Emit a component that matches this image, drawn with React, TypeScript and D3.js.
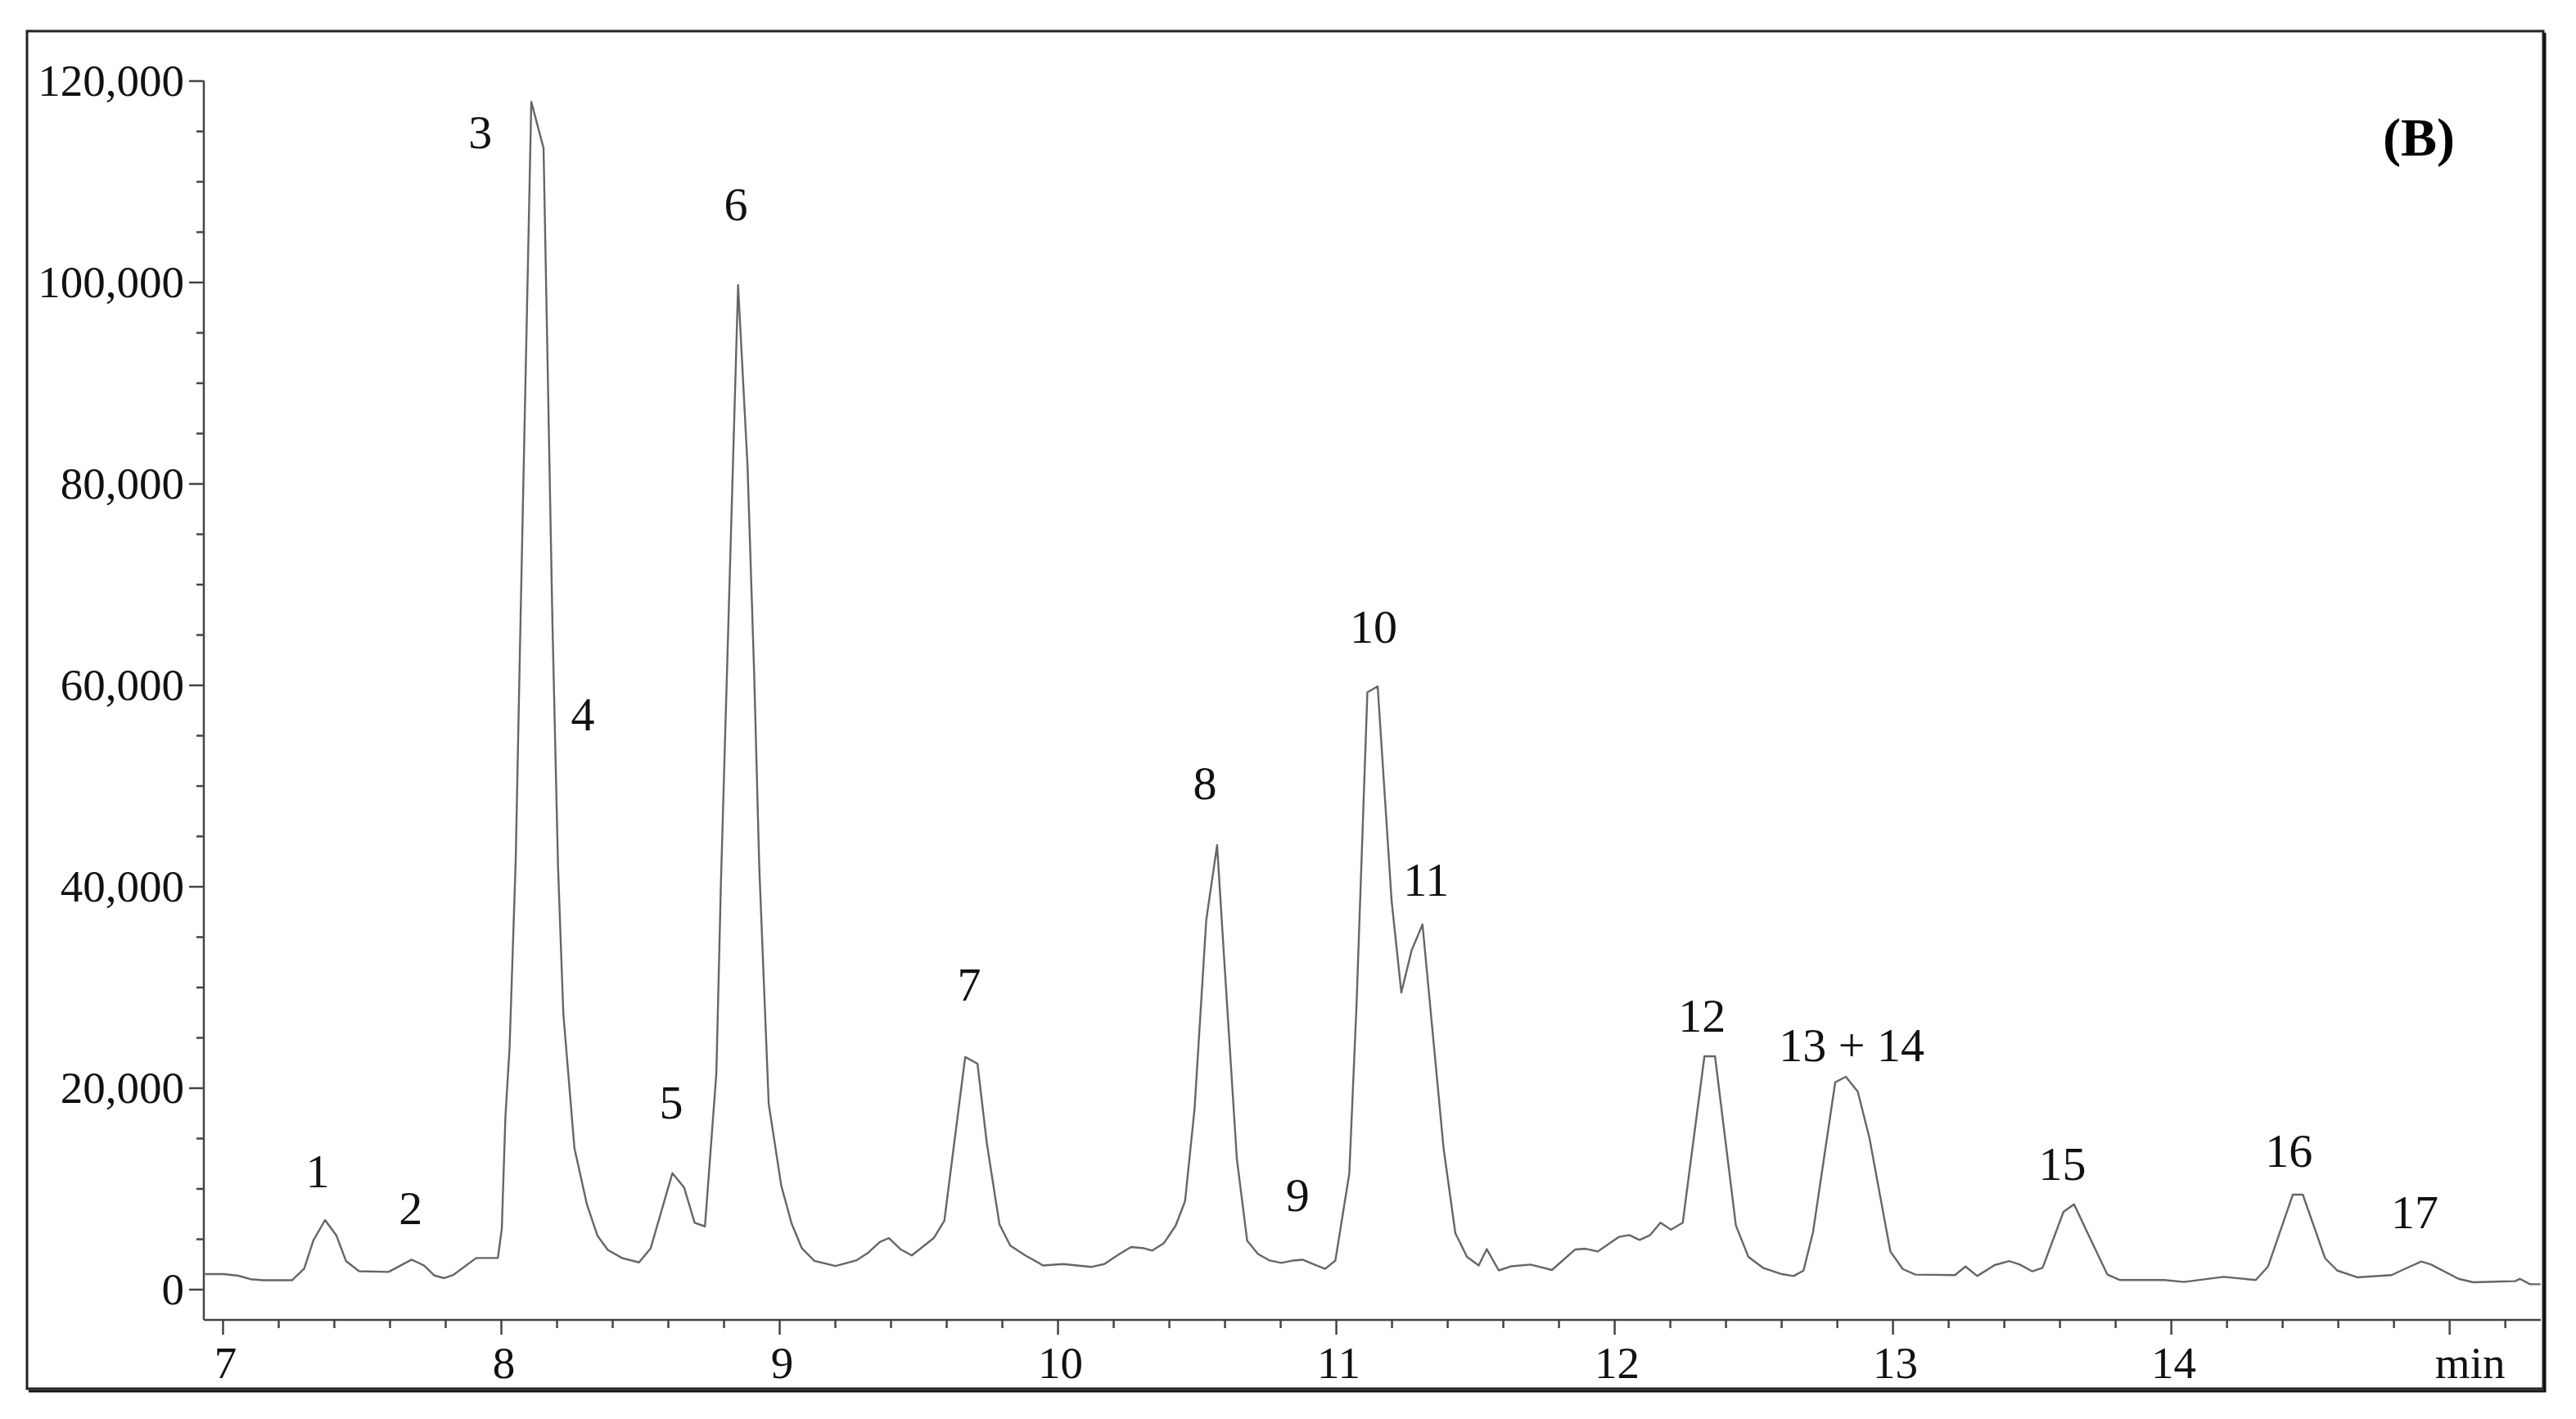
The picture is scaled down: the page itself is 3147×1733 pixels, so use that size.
import React, { useEffect, useRef } from 'react';
import * as d3 from 'd3';

// retention time (min) and detector response
const times = [
  6.933, 7.004, 7.056, 7.1, 7.146, 7.25, 7.293, 7.326, 7.368, 7.409, 7.443, 7.49, 7.596, 7.679, 7.724,
  7.761, 7.796, 7.829, 7.911, 7.989, 8.003, 8.016, 8.031, 8.053, 8.072, 8.109, 8.153, 8.185, 8.205, 8.224,
  8.264, 8.309, 8.347, 8.384, 8.435, 8.496, 8.538, 8.616, 8.658, 8.696, 8.733, 8.774, 8.79,
  8.852, 8.886, 8.91, 8.928, 8.962, 9.007, 9.044, 9.081, 9.126, 9.202, 9.276, 9.318, 9.361, 9.394,
  9.437, 9.476, 9.555, 9.593, 9.668, 9.712, 9.746, 9.791, 9.83, 9.884, 9.948, 10.019, 10.12, 10.168, 10.222,
  10.264, 10.306, 10.34, 10.382, 10.424, 10.458, 10.492, 10.534, 10.573, 10.601, 10.644, 10.681, 10.72, 10.762,
  10.804, 10.846, 10.88, 10.917, 10.961, 10.998, 11.048, 11.074, 11.113, 11.15, 11.2, 11.235, 11.272, 11.311,
  11.387, 11.429, 11.471, 11.513, 11.542, 11.585, 11.631, 11.699, 11.776, 11.859, 11.896, 11.941, 12.016,
  12.054, 12.091, 12.129, 12.166, 12.204, 12.246, 12.324, 12.362, 12.437, 12.482, 12.534, 12.602, 12.644,
  12.68, 12.714, 12.794, 12.832, 12.875, 12.917, 12.992, 13.037, 13.082, 13.224, 13.262, 13.304, 13.367,
  13.419, 13.457, 13.502, 13.539, 13.614, 13.652, 13.697, 13.772, 13.817, 13.977, 14.047, 14.189, 14.305,
  14.349, 14.438, 14.474, 14.554, 14.598, 14.669, 14.793, 14.838, 14.9, 14.935, 15.033, 15.086, 15.237,
  15.254, 15.29, 15.328,
];

const intensity = [
  1500, 1500, 1340, 1000, 900, 900, 2040, 4840, 6870, 5320, 2810, 1790, 1720, 2940, 2350,
  1360, 1100, 1420, 3100, 3100, 6000, 17100, 24000, 42600, 68700, 117900, 113300, 66100, 42000, 27400,
  14000, 8400, 5300, 3900, 3100, 2660, 4070, 11530, 10100, 6600, 6240, 21500, 40000,
  99700, 81700, 60900, 42000, 18400, 10300, 6540, 4070, 2820, 2300, 2850, 3590, 4680, 5080,
  3940, 3350, 5080, 6790, 23060, 22400, 14430, 6450, 4330, 3350, 2360, 2500, 2210, 2500, 3500,
  4190, 4090, 3840, 4580, 6300, 8760, 17890, 36630, 44100, 31680, 12950, 4820, 3500, 2850,
  2610, 2850, 2930, 2510, 2020, 2850, 11480, 28230, 59270, 59860, 38580, 29470, 33650, 36220,
  13940, 5570, 3210, 2360, 3980, 1870, 2280, 2450, 1910, 3940, 4020, 3750, 5190,
  5380, 4890, 5380, 6600, 5920, 6600, 23130, 23130, 6330, 3210, 2130, 1500, 1310,
  1850, 5650, 20550, 21100, 19610, 15000, 3750, 1990, 1450, 1400, 2260, 1310, 2400,
  2800, 2450, 1770, 2130, 7680, 8440, 5790, 1450, 910, 910, 720, 1230, 910,
  2260, 9390, 9390, 3070, 1850, 1180, 1400, 1990, 2750, 2450, 1040, 690, 800,
  1040, 500, 500,
];

// peak numbers and where they sit (time, response)
const peakLabels = ['1', '2', '3', '4', '5', '6', '7', '8', '9', '10', '11', '12', '13 + 14', '15', '16', '17'];
const peakLabelTimes = [7.341, 7.676, 7.926, 8.294, 8.612, 8.844, 9.682, 10.529, 10.862, 11.135, 11.324, 12.315, 12.853, 13.61, 14.424, 14.876];
const peakLabelValues = [10120, 6460, 113300, 55490, 16950, 106140, 28660, 48660, 7760, 64190, 39060, 25570, 22640, 10850, 12150, 6060];

const yMajorTicks = [0, 20000, 40000, 60000, 80000, 100000, 120000];
const xMajorTicks = [7, 8, 9, 10, 11, 12, 13, 14, 15];

const W = 3147;
const H = 1733;
const FONT = '"Liberation Serif", "Times New Roman", serif';

const Chromatogram = () => {
  const svgRef = useRef<SVGSVGElement>(null);

  useEffect(() => {
    const svg = d3.select(svgRef.current);
    svg.selectAll('*').remove();

    const x = d3.scaleLinear().domain([6.9324, 15.329]).range([249, 3104]);
    const y = d3.scaleLinear().domain([0, 120000]).range([1574.5, 98.5]);
    const axisY = 1612;

    // outer frame with a little shadow on the right and bottom
    svg.append('rect')
      .attr('x', 33).attr('y', 38)
      .attr('width', 3074).attr('height', 1658)
      .attr('fill', 'none')
      .attr('stroke', '#222')
      .attr('stroke-width', 3);
    svg.append('path')
      .attr('d', 'M3109,40 L3109,1699 L35,1699')
      .attr('fill', 'none')
      .attr('stroke', '#111')
      .attr('stroke-width', 3);

    // y axis
    const yMinor = d3.range(0, 120001, 5000).filter(v => v % 20000 !== 0);
    const gy = svg.append('g').attr('transform', 'translate(249,0)');
    gy.call(d3.axisLeft(y).tickValues(yMinor).tickSize(9).tickFormat(() => ''));
    gy.select('.domain').remove();
    const gy2 = svg.append('g').attr('transform', 'translate(249,0)');
    gy2.call(d3.axisLeft(y).tickValues(yMajorTicks).tickSize(18).tickPadding(6).tickFormat(d3.format(',')));
    gy2.select('.domain').remove();

    // x axis
    const xMinor = d3.range(7, 15.3, 0.2).map(v => +v.toFixed(1)).filter(v => Math.abs(v - Math.round(v)) > 0.01);
    const gx = svg.append('g').attr('transform', `translate(0,${axisY})`);
    gx.call(d3.axisBottom(x).tickValues(xMinor).tickSize(10).tickFormat(() => ''));
    gx.select('.domain').remove();
    const gx2 = svg.append('g').attr('transform', `translate(0,${axisY})`);
    gx2.call(d3.axisBottom(x).tickValues(xMajorTicks).tickSize(18).tickPadding(14)
      .tickFormat(d => (d === 15 ? 'min' : String(d))));
    gx2.select('.domain').remove();
    gx2.selectAll('text').attr('dx', d => (d === 15 ? 25 : 3));

    svg.selectAll('.tick line').attr('stroke', '#444').attr('stroke-width', 2.5);
    svg.selectAll('.tick text')
      .attr('fill', '#111')
      .style('font-family', FONT)
      .style('font-size', '55px');

    // axis lines
    svg.append('line')
      .attr('x1', 249).attr('x2', 249)
      .attr('y1', y(120000)).attr('y2', axisY)
      .attr('stroke', '#444').attr('stroke-width', 2.5);
    svg.append('line')
      .attr('x1', 249).attr('x2', 3104)
      .attr('y1', axisY).attr('y2', axisY)
      .attr('stroke', '#444').attr('stroke-width', 2.5);

    // trace
    const pts: [number, number][] = times.map((t, i) => [t, intensity[i]]);
    const line = d3.line<[number, number]>()
      .x(d => x(d[0]))
      .y(d => y(d[1]));
    svg.append('path')
      .datum(pts)
      .attr('d', line)
      .attr('fill', 'none')
      .attr('stroke', '#666')
      .attr('stroke-width', 2.4)
      .attr('stroke-linejoin', 'round');

    // peak numbers
    svg.append('g')
      .selectAll('text')
      .data(peakLabels)
      .enter()
      .append('text')
      .attr('x', (d, i) => x(peakLabelTimes[i]))
      .attr('y', (d, i) => y(peakLabelValues[i]))
      .attr('text-anchor', 'middle')
      .attr('fill', '#111')
      .style('font-family', FONT)
      .style('font-size', '58px')
      .text(d => d);

    // panel tag
    svg.append('text')
      .attr('x', 2955)
      .attr('y', 190)
      .attr('text-anchor', 'middle')
      .attr('fill', '#000')
      .style('font-family', FONT)
      .style('font-size', '66px')
      .style('font-weight', 'bold')
      .text('(B)');
  }, []);

  return (
    <svg
      ref={svgRef}
      width={W}
      height={H}
      style={{ position: 'absolute', left: 0, top: 0, background: '#fff', display: 'block' }}
    />
  );
};

export default function App() {
  return <Chromatogram />;
}
